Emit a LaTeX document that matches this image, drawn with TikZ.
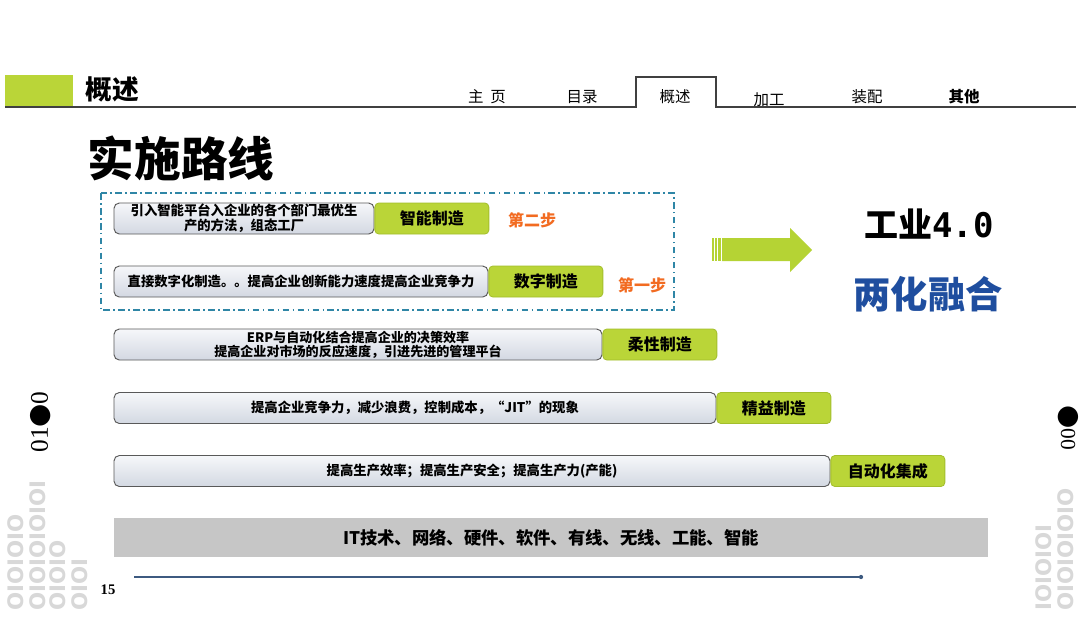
\documentclass[tikz,border=0pt]{standalone}
\usepackage{fontspec}
\setmainfont{Noto Sans CJK SC}
\newfontfamily\serif{Liberation Serif}
\newfontfamily\dejavu{DejaVu Sans}
\newfontfamily\dmono{DejaVu Sans Mono}
\definecolor{limeG}{HTML}{BAD538}
\definecolor{limeD}{HTML}{A3BE2C}
\definecolor{arrowG}{HTML}{B5D334}
\definecolor{frameC}{HTML}{2F86A6}
\definecolor{stepC}{HTML}{F26B21}
\definecolor{blueT}{HTML}{1F4E9F}
\definecolor{barG}{HTML}{C6C6C6}
\definecolor{binG}{HTML}{D8D8D8}
\definecolor{lineC}{HTML}{3D5A80}
\definecolor{grayTop}{HTML}{F6F7FA}
\definecolor{grayBot}{HTML}{D3D8E2}
\begin{document}
\begin{tikzpicture}[x=0.75pt,y=-0.75pt,
  hdrline/.style={draw=black!75, line width=1.2pt},
  tab/.style={font=\fontsize{11.6}{14}\selectfont, inner sep=0pt},
  graybox/.style={draw=black!65, line width=0.7pt, rounded corners=4pt,
     top color=grayTop, bottom color=grayBot, inner sep=0pt, align=center,
     font=\fontsize{10}{11.25}\selectfont\bfseries, minimum height=23.25pt},
  greenbox/.style={draw=limeD, line width=0.6pt, fill=limeG, rounded corners=3pt,
     inner sep=0pt, minimum height=23.25pt, minimum width=85.5pt,
     font=\fontsize{12}{14}\selectfont\bfseries},
  steptext/.style={text=stepC, font=\fontsize{12}{14}\selectfont\bfseries, inner sep=0pt},
  frame/.style={draw=frameC, line width=1.4pt, dash pattern=on 5pt off 2.5pt on 1.2pt off 2.5pt},
  bin/.style={text=binG, font=\dejavu\bfseries\fontsize{16}{18}\selectfont, inner sep=0pt, rotate=90, anchor=west},
]
\useasboundingbox (0,0) rectangle (1080,619);
\fill[white] (0,0) rectangle (1080,619);

% binary decorations (bottom-up columns)
\node[bin] (b1) at (16,611) {OIOIOIO};
\node[bin] (b2) at (38,611) {OIOIOIOIOI};
\node[bin] (b3) at (58,611) {OIOIO};
\node[bin] (b4) at (80,611) {OIOI};
\node[bin] (b5) at (1044,611) {IOIOIOI};
\node[bin] (b6) at (1066,611) {OIOIOIOIO};

% header
\fill[limeG] (5,75) rectangle (73,106);
\draw[hdrline] (5,107) -- (636,107) -- (636,77) -- (716,77) -- (716,107) -- (1076,107);
\node[font=\fontsize{20}{24}\selectfont\bfseries, inner sep=0pt] (hdr) at (112,89) {概述};
\node[tab] (t1) at (487,97) {主\hspace{5pt}页};
\node[tab] (t2) at (582,97) {目录};
\node[tab] (t3) at (675,97) {概述};
\node[tab] (t4) at (769,100) {加工};
\node[tab] (t5) at (867,97) {装配};
\node[tab, font=\fontsize{11.6}{14}\selectfont\bfseries] (t6) at (964,97) {其他};

% title
\node[font=\fontsize{35}{40}\selectfont\bfseries, inner sep=0pt] (title) at (181,158) {实施路线};

% frame
\draw[frame] (101,193) rectangle (674,310);

% rows
\node[graybox, minimum width=195pt] (g1) at (244,218.5) {引入智能平台入企业的各个部门最优生\\产的方法，组态工厂};
\node[greenbox, anchor=west] (s1) at (g1.east) {智能制造};
\node[steptext] (st2) at (532,220) {第二步};

\node[graybox, minimum width=280.5pt] (g2) at (301,281.5) {直接数字化制造。。提高企业创新能力速度提高企业竞争力};
\node[greenbox, anchor=west] (s2) at (g2.east) {数字制造};
\node[steptext] (st1) at (642,285) {第一步};

\node[graybox, minimum width=366pt, font=\fontsize{9.8}{10.5}\selectfont\bfseries] (g3) at (358,344.5) {ERP与自动化结合提高企业的决策效率\\提高企业对市场的反应速度，引进先进的管理平台};
\node[greenbox, anchor=west] (s3) at (g3.east) {柔性制造};

\node[graybox, minimum width=451.5pt] (g4) at (415,408) {提高企业竞争力，减少浪费，控制成本，“JIT”的现象};
\node[greenbox, anchor=west] (s4) at (g4.east) {精益制造};

\node[graybox, minimum width=537pt] (g5) at (472,471) {提高生产效率；提高生产安全；提高生产力(产能)};
\node[greenbox, anchor=west] (s5) at (g5.east) {自动化集成};

% base bar
\node[fill=barG, minimum width=655.5pt, minimum height=29pt, inner sep=0pt,
      font=\fontsize{13}{15}\selectfont\bfseries] (bar) at (551,537.5) {IT技术、网络、硬件、软件、有线、无线、工能、智能};

% bottom line
\coordinate (la) at (134,577);
\coordinate (lb) at (861,577);
\draw[lineC, line width=0.9pt] (la) -- (lb);
\fill[lineC] (lb) circle (1.6pt);
\node[font=\serif\bfseries\fontsize{11}{13}\selectfont, inner sep=0pt] (pg) at (108,590) {15};

% big arrow
\fill[arrowG] (722,238) -- (790,238) -- (790,228) -- (812,250) -- (790,272) -- (790,261) -- (722,261) -- cycle;
\fill[arrowG] (712,238) rectangle (713.5,261);
\fill[arrowG] (715,238) rectangle (716.5,261);
\fill[arrowG] (718,238) rectangle (720.5,261);

% right texts
\node[inner sep=0pt, font=\fontsize{25.5}{30}\selectfont\bfseries] (i40) at (929,224) {工业{\dmono\bfseries 4.0}};
\node[inner sep=0pt, text=blueT, font=\fontsize{28}{32}\selectfont\bfseries] (lhrh) at (928,294) {两化融合};

% side marks
\node[rotate=90, inner sep=0pt] (lv) at (41,422) {{\serif\fontsize{19}{20}\selectfont 01}{\dejavu\fontsize{20}{20}\selectfont ●}{\serif\fontsize{19}{20}\selectfont 0}};
\node[rotate=-90, inner sep=0pt] (rv) at (1068,428) {{\dejavu\fontsize{20}{20}\selectfont ●}{\serif\fontsize{16}{18}\selectfont 00}};
\end{tikzpicture}
\end{document}
